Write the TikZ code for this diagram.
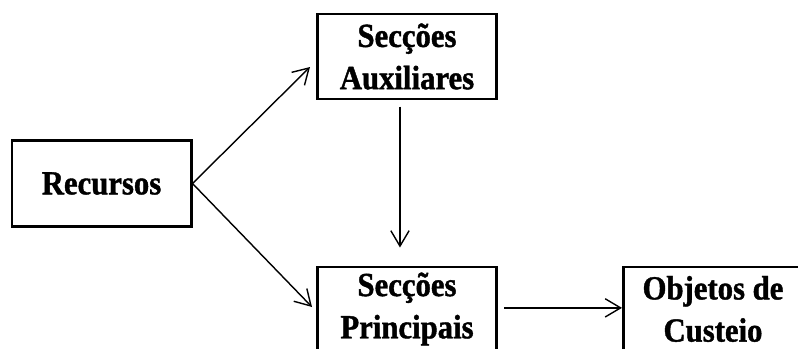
\documentclass[tikz,border=0pt]{standalone}
\usepackage{fontspec}
\setmainfont{Liberation Serif}
\newfontfamily\boxfont{Liberation Serif}[FakeStretch=0.91, FakeBold=1.2]
\usetikzlibrary{positioning,arrows.meta}
\tikzset{
>={Straight Barb[length=11pt,width=13pt]}, % open arrow heads
every path/.style={line width=1pt},
box/.style={draw, line width=2.1pt, minimum width=4.475cm, minimum height=2.15cm, align=center, font=\boxfont\fontsize{24}{30}\selectfont\bfseries},
}

\begin{document}
\begin{tikzpicture}[x=0.025cm, y=-0.025cm]
   \useasboundingbox (0,0) rectangle (798,349);
   \node[box] (rec) at (101.5,183.5) {Recursos};
   \node[box, minimum height=2.125cm] (aux) at (407,56.5) {Secções \\ Auxiliares};
   \node[box, minimum height=2.1cm] (pri) at (407,309) {Secções \\ Principais};
   \node[box, minimum height=2.1cm] (obj) at (713,309) {Objetos de \\ Custeio};
   \coordinate (auxin) at (310,67);
   \coordinate (priin) at (312,307);
   \path[->]
    (rec.east) edge (auxin)
    (rec.east) edge (priin)
    ([xshift=-5pt,yshift=-4.3pt]aux.south) edge ([xshift=-5pt,yshift=12.8pt]pri.north)
    ([xshift=4.3pt,yshift=0.8pt]pri.east) edge ([yshift=0.8pt]obj.west);
\end{tikzpicture}
\end{document}
